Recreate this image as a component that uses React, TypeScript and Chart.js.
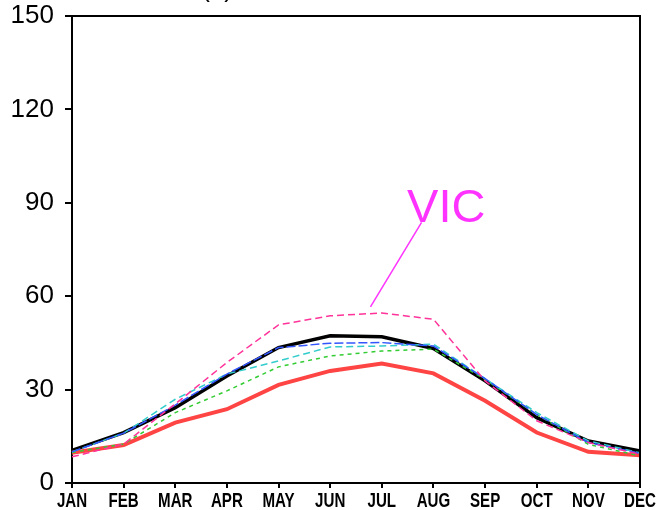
import React, { useEffect, useRef } from "react";
import { Chart, registerables } from "chart.js";

Chart.register(...registerables);

const months = ["JAN", "FEB", "MAR", "APR", "MAY", "JUN", "JUL", "AUG", "SEP", "OCT", "NOV", "DEC"];
const yTicks = [0, 30, 60, 90, 120, 150];

const vicValues = [8.4, 12.5, 25.4, 38.7, 50.8, 53.7, 54.6, 52.6, 32.8, 20.0, 13.0, 9.2];
const blueValues = [10.0, 16.0, 25.0, 35.0, 43.5, 44.9, 45.1, 44.0, 33.5, 22.0, 13.0, 9.5];
const cyanValues = [10.0, 16.0, 26.9, 35.0, 39.2, 43.7, 44.0, 44.6, 33.5, 22.6, 13.5, 9.7];
const greenValues = [9.8, 12.5, 22.6, 29.6, 37.3, 40.8, 42.4, 43.0, 33.3, 22.0, 12.4, 8.7];
const redValues = [9.7, 12.2, 19.4, 23.7, 31.5, 36.0, 38.4, 35.2, 26.4, 16.2, 10.0, 8.9];
const blackValues = [10.5, 16.2, 24.2, 34.4, 43.5, 47.3, 47.0, 43.2, 32.8, 21.0, 13.5, 10.3];

// annotation anchored in data units (x = month index, y = value)
const vicLabel = "VIC";
const vicLabelAt = [6.49, 83.7];
const vicLineFrom = [6.77, 83.7];
const vicLineTo = [5.78, 56.6];
const panelTitle = "(a)";
const panelTitleX = 2.81;

const framePlugin = {
  id: "frame",
  afterDraw(chart: any) {
    const { ctx, chartArea, scales } = chart;
    const xs = scales.x;
    const ys = scales.y;
    ctx.save();
    // top and right frame
    ctx.strokeStyle = "#000";
    ctx.lineWidth = 2;
    ctx.beginPath();
    ctx.moveTo(chartArea.left - 7, chartArea.top);
    ctx.lineTo(chartArea.right, chartArea.top);
    ctx.lineTo(chartArea.right, chartArea.bottom);
    ctx.stroke();
    // condensed bold month labels
    ctx.fillStyle = "#000";
    ctx.font = 'bold 21px "Liberation Sans", Arial, sans-serif';
    ctx.textAlign = "center";
    ctx.textBaseline = "alphabetic";
    const sx = 0.72;
    xs.ticks.forEach((_t: any, i: number) => {
      const px = xs.getPixelForTick(i);
      ctx.save();
      ctx.translate(px, chartArea.bottom + 24);
      ctx.scale(sx, 1);
      ctx.fillText(months[i], 0, 0);
      ctx.restore();
    });
    // VIC annotation
    ctx.strokeStyle = "#ff33ff";
    ctx.lineWidth = 1.5;
    ctx.beginPath();
    ctx.moveTo(xs.getPixelForValue(vicLineFrom[0]), ys.getPixelForValue(vicLineFrom[1]));
    ctx.lineTo(xs.getPixelForValue(vicLineTo[0]), ys.getPixelForValue(vicLineTo[1]));
    ctx.stroke();
    ctx.fillStyle = "#ff33ff";
    ctx.font = '47px "Liberation Sans", Arial, sans-serif';
    ctx.textAlign = "left";
    ctx.fillText(vicLabel, xs.getPixelForValue(vicLabelAt[0]), ys.getPixelForValue(vicLabelAt[1]));
    // partially visible panel title
    ctx.fillStyle = "#000";
    ctx.font = '26px "Liberation Sans", Arial, sans-serif';
    ctx.textAlign = "center";
    ctx.fillText(panelTitle, xs.getPixelForValue(panelTitleX), chartArea.top - 19);
    ctx.restore();
  },
};

export default function App() {
  const ref = useRef<HTMLCanvasElement | null>(null);
  useEffect(() => {
    if (!ref.current) return;
    const mk = (label: string, data: number[], color: string, width: number, dash: number[]) => ({
      label,
      data,
      borderColor: color,
      backgroundColor: color,
      borderWidth: width,
      borderDash: dash,
      pointRadius: 0,
      tension: 0,
      fill: false,
    });
    const chart = new Chart(ref.current, {
      type: "line",
      data: {
        labels: months,
        datasets: [
          mk("VIC", vicValues, "#ff3399", 1.5, [7, 4]),
          mk("blue", blueValues, "#3355ff", 1.5, [9, 3]),
          mk("cyan", cyanValues, "#33cccc", 1.5, [7, 4]),
          mk("green", greenValues, "#33cc33", 1.5, [4, 4]),
          mk("red", redValues, "#ff4444", 4, []),
          mk("obs", blackValues, "#000000", 3.5, []),
        ],
      },
      options: {
        animation: false,
        responsive: false,
        maintainAspectRatio: false,
        layout: { padding: { top: 16, right: 20, bottom: 0, left: 0 } },
        plugins: { legend: { display: false }, tooltip: { enabled: false }, title: { display: false } },
        scales: {
          x: {
            offset: false,
            grid: { drawOnChartArea: false, tickLength: 5, color: "#000", lineWidth: 2 },
            border: { color: "#000", width: 2 },
            ticks: {
              display: false,
              autoSkip: false,
              maxRotation: 0,
            },
            afterFit(scale: any) {
              scale.height = 27;
              scale.paddingLeft = 0;
              scale.paddingRight = 0;
            },
          },
          y: {
            min: 0,
            max: 150,
            afterBuildTicks(scale: any) {
              scale.ticks = yTicks.map((v) => ({ value: v }));
            },
            grid: { drawOnChartArea: false, tickLength: 7, color: "#000", lineWidth: 2 },
            border: { color: "#000", width: 2 },
            ticks: {
              color: "#000",
              padding: 11,
              font: { family: '"Liberation Sans", Arial, sans-serif', size: 26 },
            },
            afterFit(scale: any) {
              scale.width = 72;
              scale.paddingTop = 0;
              scale.paddingBottom = 0;
            },
          },
        },
      },
      plugins: [framePlugin],
    });
    return () => chart.destroy();
  }, []);
  return (
    <div style={{ position: "absolute", left: 0, top: 0, width: 660, height: 510, background: "#fff" }}>
      <canvas ref={ref} width={660} height={510} />
    </div>
  );
}
